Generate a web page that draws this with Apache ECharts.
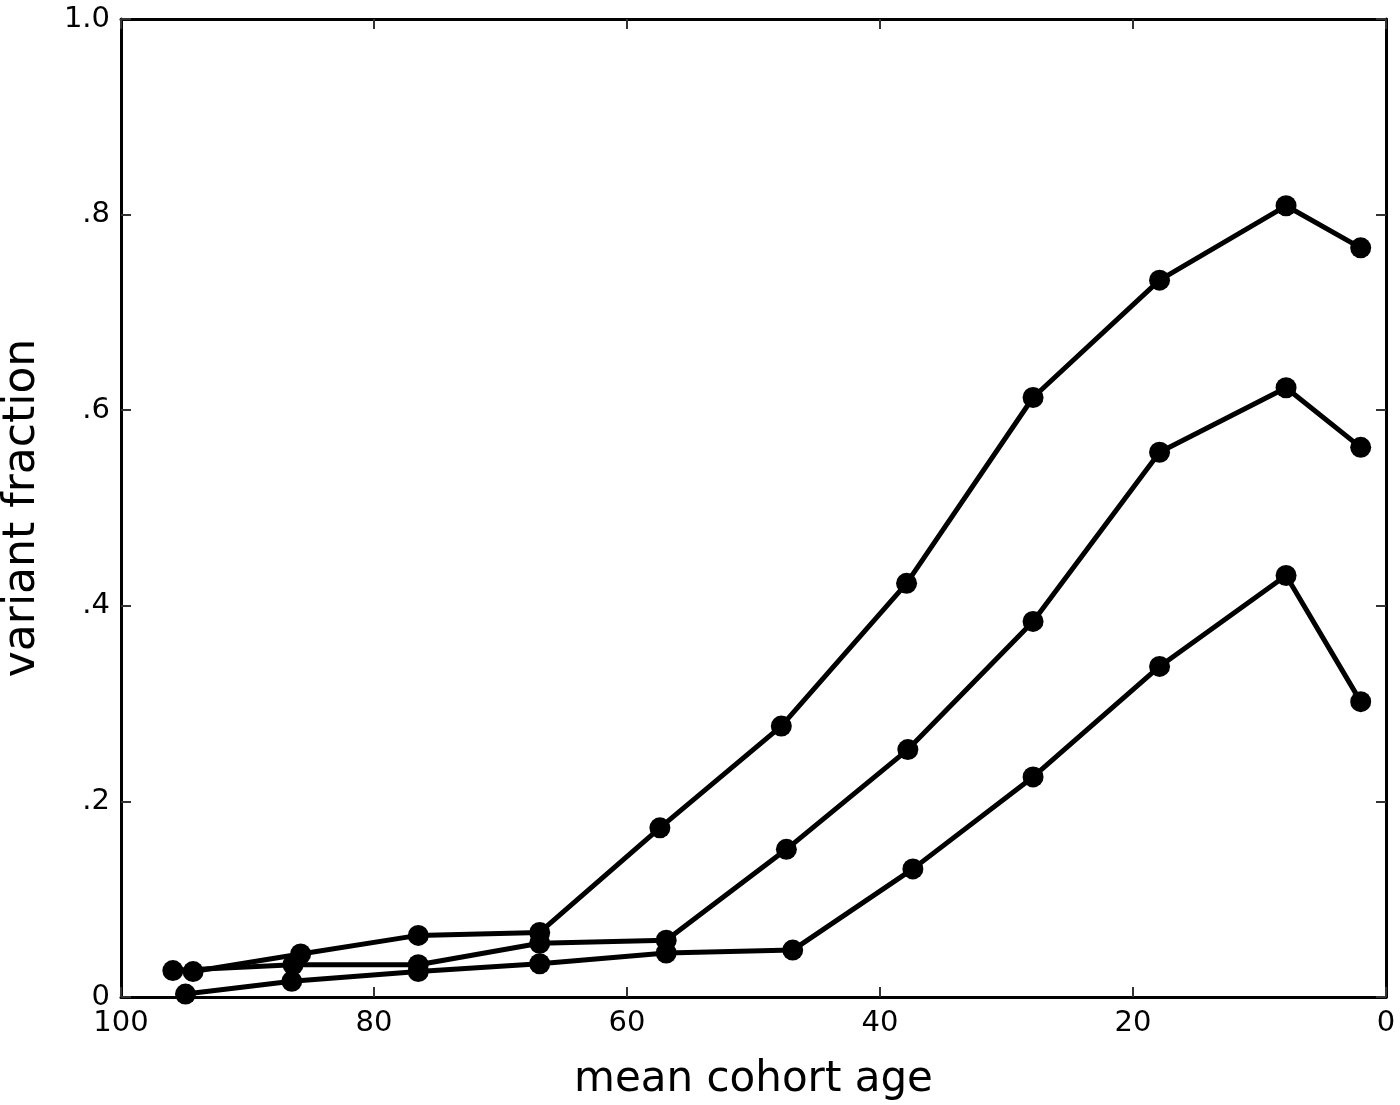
<!DOCTYPE html>
<html>
<head>
<meta charset="utf-8">
<script src="https://cdn.jsdelivr.net/npm/echarts@6/dist/echarts.min.js"></script>
<style>
  html, body { margin: 0; padding: 0; background: #fff; }
  #chart { width: 1400px; height: 1105px; }
</style>
</head>
<body>
<div id="chart"></div>
<script>
// Data
const topAges    = [94.3, 85.8, 76.5, 66.9, 57.4, 47.8, 37.9, 27.9, 17.9, 7.9, 2.0];
const topValues  = [0.026, 0.044, 0.063, 0.066, 0.173, 0.277, 0.423, 0.613, 0.733, 0.809, 0.766];
const midAges    = [95.9, 86.4, 76.5, 66.9, 56.9, 47.4, 37.8, 27.9, 17.9, 7.9, 2.0];
const midValues  = [0.027, 0.033, 0.033, 0.055, 0.058, 0.151, 0.253, 0.384, 0.557, 0.623, 0.562];
const lowAges    = [94.9, 86.5, 76.5, 66.9, 56.9, 46.9, 37.4, 27.9, 17.9, 7.9, 2.0];
const lowValues  = [0.003, 0.016, 0.026, 0.034, 0.045, 0.048, 0.131, 0.225, 0.338, 0.431, 0.302];

const xTicks = [0, 20, 40, 60, 80, 100];
const yTickLabels = { 0: '0', 0.2: '.2', 0.4: '.4', 0.6: '.6', 0.8: '.8', 1: '1.0' };

function pairs(xs, ys) { return xs.map((x, i) => [x, ys[i]]); }

const chart = echarts.init(document.getElementById('chart'), null, { renderer: 'canvas' });

const axisLineStyle = { color: '#000', width: 3 };
const tickStyle = { color: '#333', width: 2 };
const labelFont = { fontFamily: 'DejaVu Sans', fontSize: 29, color: '#000' };

function lineSeries(data) {
  return {
    type: 'line',
    data: data,
    symbol: 'circle',
    symbolSize: 21,
    itemStyle: { color: '#000' },
    lineStyle: { color: '#000', width: 5 },
    emphasis: { disabled: true },
    animation: false
  };
}

chart.setOption({
  backgroundColor: '#fff',
  animation: false,
  grid: { left: 121, right: 14, top: 19, bottom: 108, containLabel: false, outerBoundsMode: 'none' },
  xAxis: [
    {
      type: 'value', min: 0, max: 100, interval: 20, inverse: true, position: 'bottom',
      name: 'mean cohort age', nameLocation: 'middle', nameGap: 62,
      nameTextStyle: { fontFamily: 'DejaVu Sans', fontSize: 42, color: '#000' },
      axisLine: { show: true, onZero: false, lineStyle: axisLineStyle },
      axisTick: { show: true, inside: true, length: 10, lineStyle: tickStyle },
      axisLabel: Object.assign({ margin: 12, formatter: v => xTicks.includes(v) ? String(v) : '' }, labelFont),
      splitLine: { show: false }
    },
    {
      type: 'value', min: 0, max: 100, interval: 20, inverse: true, position: 'top',
      axisLine: { show: true, onZero: false, lineStyle: axisLineStyle },
      axisTick: { show: true, inside: true, length: 10, lineStyle: tickStyle },
      axisLabel: { show: false },
      splitLine: { show: false }
    }
  ],
  yAxis: [
    {
      type: 'value', min: 0, max: 1, interval: 0.2, position: 'left',
      name: 'variant fraction', nameLocation: 'middle', nameGap: 76,
      nameTextStyle: { fontFamily: 'DejaVu Sans', fontSize: 44, color: '#000' },
      axisLine: { show: true, onZero: false, lineStyle: axisLineStyle },
      axisTick: { show: true, inside: true, length: 10, lineStyle: tickStyle },
      axisLabel: Object.assign({ margin: 11, formatter: v => yTickLabels[Math.round(v * 10) / 10] }, labelFont),
      splitLine: { show: false }
    },
    {
      type: 'value', min: 0, max: 1, interval: 0.2, position: 'right',
      axisLine: { show: true, onZero: false, lineStyle: axisLineStyle },
      axisTick: { show: true, inside: true, length: 10, lineStyle: tickStyle },
      axisLabel: { show: false },
      splitLine: { show: false }
    }
  ],
  series: [
    lineSeries(pairs(lowAges, lowValues)),
    lineSeries(pairs(midAges, midValues)),
    lineSeries(pairs(topAges, topValues))
  ]
});
</script>
</body>
</html>
